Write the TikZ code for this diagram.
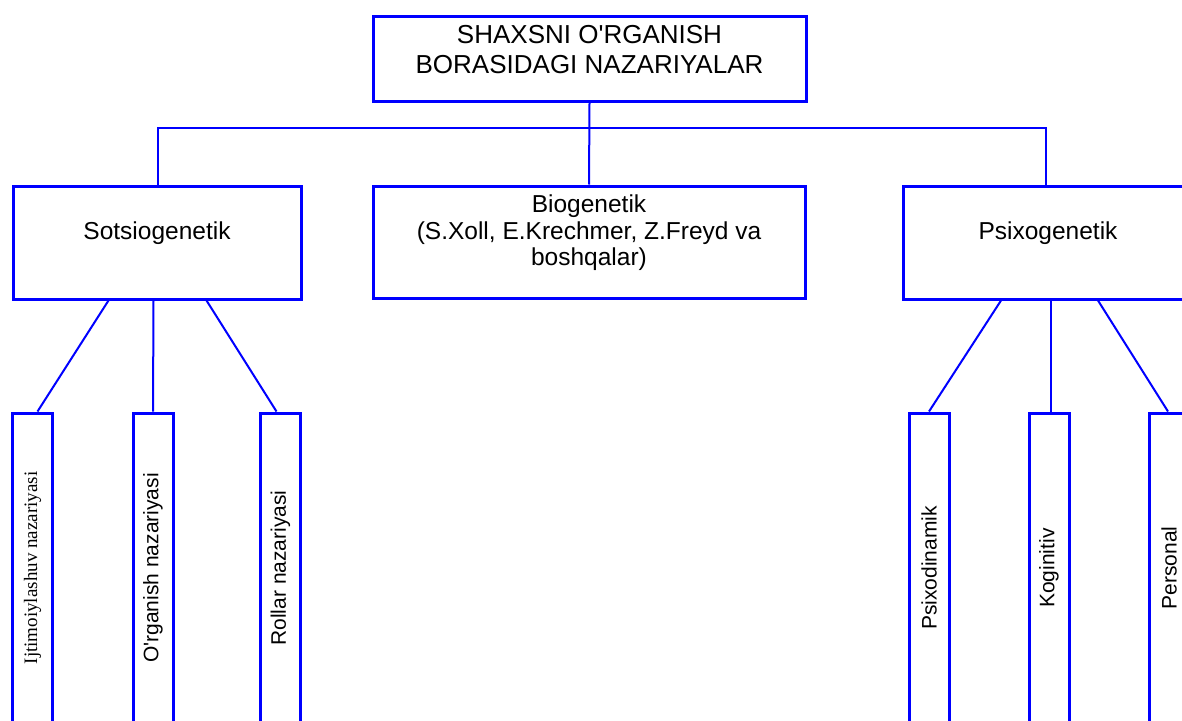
\documentclass[tikz,border=0pt]{standalone}
\usepackage{fontspec}
\setmainfont{Liberation Sans}
\newfontfamily\serifrm{Liberation Serif}
\usetikzlibrary{positioning}

\begin{document}
\begin{tikzpicture}[
  x=1pt,y=-1pt,
  box/.style={draw=blue,line width=3pt,rectangle,inner sep=0pt},
  leaf/.style={box,rotate=90,minimum width=310pt,minimum height=40pt,
               font=\fontsize{21}{24}\selectfont},
  txt/.style={align=center,font=\fontsize{24.5}{26.5}\selectfont},
  link/.style={draw=blue,line width=2pt}
]
\useasboundingbox (0,0) rectangle (1182,720);
\clip (0,0) rectangle (1182,720);

% top
\node[box,minimum width=433pt,minimum height=85pt] (root) at (589.5,58.5) {};
\node[txt,font=\fontsize{26}{30}\selectfont] (rootT) at (589.5,50)
  {SHAXSNI O\textquotesingle RGANISH\\BORASIDAGI NAZARIYALAR};

% second row
\node[box,minimum width=288pt,minimum height=113pt] (sots) at (157.5,242.5) {};
\node[txt] (sotsT) at (157,233) {Sotsiogenetik};
\node[box,minimum width=432pt,minimum height=112pt] (bio) at (589,242) {};
\node[txt] (bioT) at (589,233) {Biogenetik\\(S.Xoll, E.Krechmer, Z.Freyd va\\boshqalar)};
\node[box,minimum width=286pt,minimum height=113pt] (psi) at (1046,242.5) {};
\node[txt] (psiT) at (1048,233) {Psixogenetik};

% leaves
\node[leaf,font=\serifrm\fontsize{19}{22}\selectfont] (ijt) at (32.5,568) {Ijtimoiylashuv nazariyasi};
\node[leaf] (org) at (153,568) {O\textquotesingle rganish nazariyasi};
\node[leaf] (rol) at (280.5,568) {Rollar nazariyasi};
\node[leaf] (psd) at (929,568) {Psixodinamik};
\node[leaf] (kog) at (1049,568) {Koginitiv};
\node[leaf] (per) at (1169,568) {Personal};

% connectors
\coordinate (bus) at (589.5,128);
\draw[link] (root.south) -- (bio.north);
\draw[link] (sots.north) |- (bus) -| (psi.north);

\draw[link] ([xshift=-49pt]sots.south) -- ([xshift=5pt]ijt.east);
\draw[link] ([xshift=-4pt]sots.south) -- (org.east);
\draw[link] ([xshift=49pt]sots.south) -- ([xshift=-4pt]rol.east);

\draw[link] ([xshift=-45pt]psi.south) -- (psd.east);
\draw[link] ([xshift=5pt]psi.south) -- ([xshift=2pt]kog.east);
\draw[link] ([xshift=52pt]psi.south) -- ([xshift=-1pt]per.east);
\end{tikzpicture}
\end{document}
